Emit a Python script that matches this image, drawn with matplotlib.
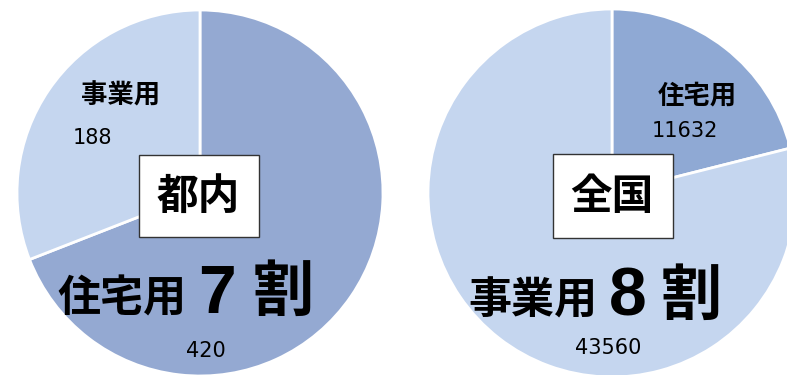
import matplotlib
matplotlib.use("Agg")
import matplotlib.pyplot as plt
from matplotlib.patches import Rectangle

plt.rcParams['font.family'] = ['Noto Sans CJK JP', 'DejaVu Sans']

# data
labels = ['住宅用', '事業用']
tonai = [420, 188]
zenkoku = [11632, 43560]
titles = ['都内', '全国']
wari = ['7', '8']

dark_l = '#94a9d2'
dark_r = '#8fa9d4'
light = '#c5d6ef'

W, H = 787, 375
fig = plt.figure(figsize=(W / 100, H / 100), dpi=100)
ax = fig.add_axes([0, 0, 1, 1])

# pies (y measured from bottom)
ax.pie(tonai, colors=[dark_l, light], startangle=90, counterclock=False,
       center=(200, H - 193), radius=183,
       wedgeprops=dict(edgecolor='white', linewidth=2))
ax.pie(zenkoku, colors=[dark_r, light], startangle=90, counterclock=False,
       center=(612, H - 193), radius=184,
       wedgeprops=dict(edgecolor='white', linewidth=2))

ax.set_xlim(0, W)
ax.set_ylim(0, H)
ax.set_aspect('auto')
ax.axis('off')


def t(x, y, s, size, bold=False, family=None):
    kw = {}
    if family:
        kw['family'] = family
    ax.text(x, H - y, s, fontsize=size, fontweight='bold' if bold else 'normal',
            ha='center', va='center', color='black', zorder=5, **kw)


def box(x0, y0, x1, y1):
    ax.add_patch(Rectangle((x0, H - y1), x1 - x0, y1 - y0, fc='white',
                           ec='#333333', lw=1, zorder=4))


# left pie labels
t(121, 96, labels[1], 19, True)
t(92, 138, str(tonai[1]), 15, family='DejaVu Sans')
t(206, 351, str(tonai[0]), 15, family='DejaVu Sans')
box(139, 155, 259, 237)
t(198, 197, titles[0], 30, True)
t(122, 299, labels[0], 31, True)
t(217, 295, wari[0], 49, True, family='Liberation Sans')
t(283, 293, '割', 44, True)

# right pie labels
t(697, 96, labels[0], 19, True)
t(685, 131, str(zenkoku[0]), 15, family='DejaVu Sans')
t(608, 348, str(zenkoku[1]), 15, family='DejaVu Sans')
box(553, 154, 673, 238)
t(612, 197, titles[1], 30, True)
t(533, 301, labels[1], 31, True)
t(628, 298, wari[1], 49, True, family='Liberation Sans')
t(691, 297, '割', 44, True)

fig.savefig('out.png', dpi=100)
